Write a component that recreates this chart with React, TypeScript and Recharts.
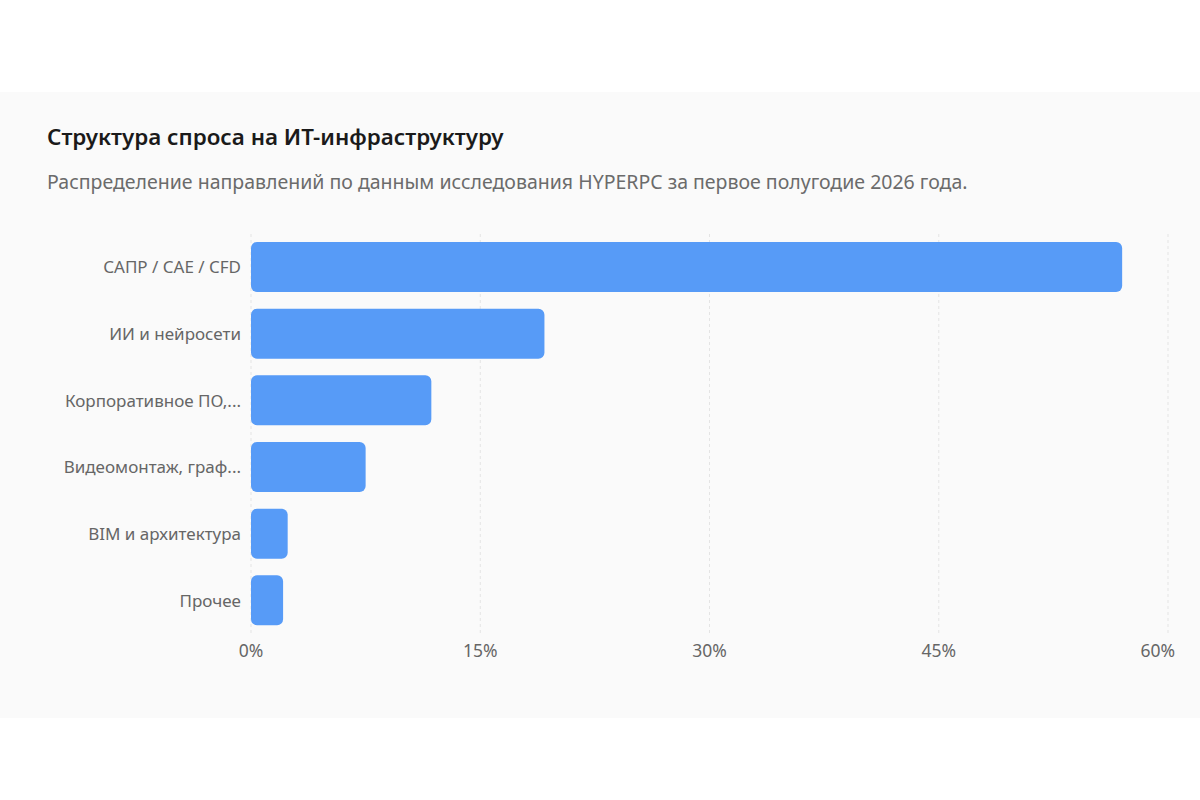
import React from "react";
import { BarChart, Bar, XAxis, YAxis, CartesianGrid } from "recharts";

const categories = [
  "САПР / CAE / CFD",
  "ИИ и нейросети",
  "Корпоративное ПО,...",
  "Видеомонтаж, граф...",
  "BIM и архитектура",
  "Прочее",
];
const shares = [57.0, 19.2, 11.8, 7.5, 2.4, 2.1];
const xTicks = [0, 15, 30, 45, 60];

const data = categories.map((name, i) => ({ name, value: shares[i] }));

const FONT = "'Noto Sans', 'Open Sans', sans-serif";

const XTick = (props: any) => {
  const { x, y, payload } = props;
  const label = `${payload.value}%`;
  const maxRight = 1175;
  const isLast = payload.value === xTicks[xTicks.length - 1];
  return (
    <text
      x={isLast ? maxRight : x}
      y={y}
      dy="0.71em"
      textAnchor={isLast ? "end" : "middle"}
      fill="#666666"
      fontSize={17.5}
      fontFamily={FONT}
    >
      {label}
    </text>
  );
};

export default function App() {
  return (
    <div
      style={{
        position: "fixed",
        left: 0,
        top: 0,
        width: 1200,
        height: 800,
        background: "#ffffff",
        fontFamily: FONT,
        overflow: "hidden",
      }}
    >
      <div
        style={{
          position: "absolute",
          left: 0,
          top: 92,
          width: 1200,
          height: 626,
          background: "#fafafa",
        }}
      />
      <div
        style={{
          position: "absolute",
          left: 47,
          top: 120,
          fontSize: 22.4,
          fontWeight: 600,
          color: "#1a1a1a",
          lineHeight: "34px",
          whiteSpace: "nowrap",
        }}
      >
        Структура спроса на ИТ-инфраструктуру
      </div>
      <div
        style={{
          position: "absolute",
          left: 47,
          top: 167,
          fontSize: 19.5,
          color: "#6b6b6b",
          lineHeight: "30px",
          whiteSpace: "nowrap",
        }}
      >
        Распределение направлений по данным исследования HYPERPC за первое полугодие 2026 года.
      </div>
      <div style={{ position: "absolute", left: 0, top: 220 }}>
        <BarChart
          width={1200}
          height={460}
          data={data}
          layout="vertical"
          margin={{ top: 14, right: 32, left: 0, bottom: 16 }}
          barCategoryGap="12.5%"
        >
          <CartesianGrid
            horizontal={false}
            vertical={true}
            stroke="#e4e4e4"
            strokeDasharray="3 3"
          />
          <XAxis
            type="number"
            domain={[0, 60]}
            ticks={xTicks}
            axisLine={false}
            tickLine={false}
            tickMargin={5}
            height={30}
            tick={<XTick />}
          />
          <YAxis
            type="category"
            dataKey="name"
            width={251}
            axisLine={false}
            tickLine={false}
            tickMargin={4}
            interval={0}
            tick={{ fill: "#666666", fontSize: 17, fontFamily: FONT }}
          />
          <Bar
            dataKey="value"
            fill="#579bf7"
            barSize={50}
            radius={[6, 6, 6, 6]}
            isAnimationActive={false}
          />
        </BarChart>
      </div>
    </div>
  );
}
